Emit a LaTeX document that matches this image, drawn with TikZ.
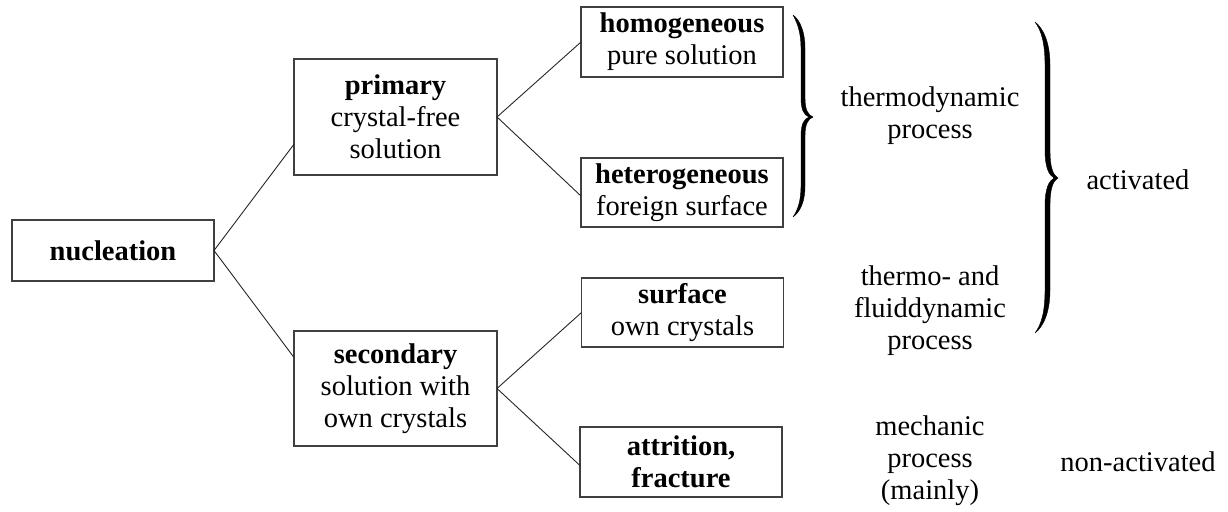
\documentclass[tikz,border=0pt]{standalone}
\usepackage{fontspec}
\setmainfont{Liberation Serif}
\begin{document}
\begin{tikzpicture}[x=1pt,y=-1pt,
  every node/.style={font=\fontsize{28.5}{32}\selectfont, align=center, inner sep=0pt, outer sep=0pt},
  box/.style={draw=black!75, line width=1.2pt, minimum width=202pt},
  conn/.style={draw=black!85, line width=0.9pt},
  lbl/.style={},
  bracefill/.style={fill=black, draw=black, line width=0.4pt, line join=round}]
\useasboundingbox (0,0) rectangle (1228,511);
% boxes
\node[box, minimum height=61pt]  (nuc)  at (113,250.5) {\textbf{nucleation}};
\node[box, minimum width=203pt, minimum height=116pt] (prim) at (395.5,117) {\textbf{primary}\\crystal-free\\solution};
\node[box, minimum width=203pt, minimum height=115pt] (sec)  at (395.5,388.5) {\textbf{secondary}\\solution with\\own crystals};
\node[box, minimum height=70pt] (hom)  at (682,42)  {\textbf{homogeneous}\\pure solution};
\node[box, minimum height=69pt] (het)  at (682,192.5) {\textbf{heterogeneous}\\foreign surface};
\node[box, minimum height=69pt] (surf) at (682.5,312.5) {\textbf{surface}\\own crystals};
\node[box, minimum height=70pt] (attr) at (681,462) {\textbf{attrition,}\\\textbf{fracture}};
% connectors
\draw[conn] (nuc.east) -- (prim.195);
\draw[conn] (nuc.east) -- (sec.163);
\draw[conn] (prim.east) -- (hom.west);
\draw[conn] (prim.east) -- (het.182);
\draw[conn] (sec.east) -- (surf.west);
\draw[conn] (sec.east) -- (attr.182);
% labels
\node[lbl] (thermo) at (930,116) {thermodynamic\\process};
\node[lbl] (fluid)  at (930,311) {thermo- and\\fluiddynamic\\process};
\node[lbl] (mech)   at (930,461) {mechanic\\process\\(mainly)};
\node[lbl] (act)    at (1138,180) {activated};
\node[lbl] (nonact) at (1138,462) {non-activated};
% brace 1
\fill[bracefill] (793,15)
  .. controls (800,20) and (805,32) .. (805,48)
  -- (805,98)
  .. controls (805,110) and (808,115) .. (813,117)
  .. controls (808,119) and (805,124) .. (805,136)
  -- (805,186)
  .. controls (805,202) and (800,212) .. (793,217)
  .. controls (798,210) and (801,200) .. (801,186)
  -- (801,136)
  .. controls (801,124) and (804,119) .. (809,117)
  .. controls (804,115) and (801,110) .. (801,98)
  -- (801,48)
  .. controls (801,34) and (798,24) .. (793,15) -- cycle;
% brace 2
\fill[bracefill] (1035,22)
  .. controls (1043,28) and (1050,42) .. (1050,65)
  -- (1050,150)
  .. controls (1050,168) and (1053,175) .. (1058,178)
  .. controls (1053,181) and (1050,188) .. (1050,206)
  -- (1050,290)
  .. controls (1050,313) and (1043,327) .. (1035,333)
  .. controls (1041,325) and (1045,313) .. (1045,290)
  -- (1045,206)
  .. controls (1045,188) and (1049,181) .. (1054,178)
  .. controls (1049,175) and (1045,168) .. (1045,150)
  -- (1045,65)
  .. controls (1045,42) and (1041,30) .. (1035,22) -- cycle;
\end{tikzpicture}
\end{document}
